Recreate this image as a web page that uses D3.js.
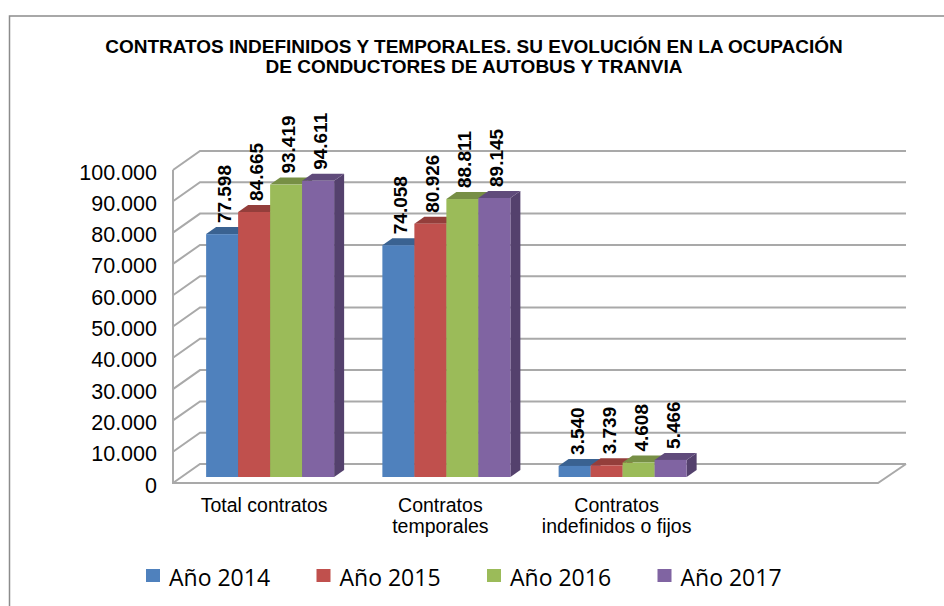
<!DOCTYPE html>
<html>
<head>
<meta charset="utf-8">
<script src="https://cdn.jsdelivr.net/npm/d3@7"></script>
<style>
  html, body { margin: 0; padding: 0; background: #fff; }
  svg { display: block; }
</style>
</head>
<body>
<svg width="944" height="606"></svg>
<script>
// chart values
const categories = ["Total contratos", "Contratos temporales", "Contratos indefinidos o fijos", ""];
const categoryLines = [["Total contratos"], ["Contratos", "temporales"], ["Contratos", "indefinidos o fijos"], []];
const years = ["Año 2014", "Año 2015", "Año 2016", "Año 2017"];
const values2014 = [77598, 74058, 3540];
const values2015 = [84665, 80926, 3739];
const values2016 = [93419, 88811, 4608];
const values2017 = [94611, 89145, 5466];
const yTicks = [0, 10000, 20000, 30000, 40000, 50000, 60000, 70000, 80000, 90000, 100000];
const titleLines = [
  "CONTRATOS INDEFINIDOS Y TEMPORALES. SU EVOLUCIÓN EN LA OCUPACIÓN",
  "DE CONDUCTORES DE AUTOBUS Y TRANVIA"
];

const series = [values2014, values2015, values2016, values2017];
const faceColors = ["#4f81bd", "#c0504d", "#9bbb59", "#8064a2"];
const topColors = ["#3a6291", "#943e3b", "#778f45", "#604b7b"];
const sideColors = ["#34577f", "#823634", "#687d3c", "#54416d"];

const svg = d3.select("svg");
const sans = "'Liberation Sans', Arial, sans-serif";
const es = d3.formatLocale({ decimal: ",", thousands: ".", grouping: [3], currency: ["", "€"] });
const fmt = es.format(",d");

// frame, only left and top are inside the picture
svg.append("path")
  .attr("d", "M9.5,606V16H944")
  .attr("fill", "none")
  .attr("stroke", "#8c8c8c")
  .attr("stroke-width", 1.5);

// title
svg.append("g").selectAll("text")
  .data(titleLines)
  .join("text")
  .attr("x", 474)
  .attr("y", (d, i) => 53 + i * 20)
  .attr("text-anchor", "middle")
  .attr("font-family", sans)
  .attr("font-weight", 700)
  .attr("font-size", 19)
  .attr("fill", "#000")
  .text((d) => d);

// scales, y is the front plane of the 3d box
const y = d3.scaleLinear().domain([0, 100000]).range([483, 170]);
const xFront = d3.scaleBand().domain(categories).range([173, 878]);
const x = d3.scaleBand().domain(categories).range([182, 887]).paddingInner(0).paddingOuter(0);
const wallDx = 27, wallDy = -19;  // depth of the whole box
const barDx = 10, barDy = -7;     // depth of the bars
const planeDy = -6;               // bars stand a bit behind the front edge
const barW = 32;

// walls
const grid = svg.append("g")
  .attr("fill", "none")
  .attr("stroke", "#a9a9a9")
  .attr("stroke-width", 2);

grid.selectAll("path.tick")
  .data(yTicks)
  .join("path")
  .attr("class", "tick")
  .attr("d", (d) => `M173,${y(d)}L${173 + wallDx},${y(d) + wallDy}H906`);

grid.append("path").attr("d", `M173,${y(100000)}V${y(0)}H878L906,${y(0) + wallDy}`);

// bars
const barLayer = svg.append("g");
categories.slice(0, 3).forEach((cat, c) => {
  series.forEach((vals, s) => {
    const x0 = x(cat) + x.bandwidth() / 2 - barW * 2 + s * barW;
    const yTop = y(vals[c]) + planeDy;
    const yBase = y(0) + planeDy;
    const g = barLayer.append("g");
    g.append("polygon")
      .attr("points", [[x0 + barW, yTop], [x0 + barW + barDx, yTop + barDy], [x0 + barW + barDx, yBase + barDy], [x0 + barW, yBase]].join(" "))
      .attr("fill", sideColors[s]);
    g.append("polygon")
      .attr("points", [[x0, yTop], [x0 + barDx, yTop + barDy], [x0 + barW + barDx, yTop + barDy], [x0 + barW, yTop]].join(" "))
      .attr("fill", topColors[s]);
    g.append("rect")
      .attr("x", x0)
      .attr("y", yTop)
      .attr("width", barW)
      .attr("height", yBase - yTop)
      .attr("fill", faceColors[s]);
  });
});

// value labels, on top so they cross the grid
categories.slice(0, 3).forEach((cat, c) => {
  series.forEach((vals, s) => {
    const cx = x(cat) + x.bandwidth() / 2 - barW * 2 + s * barW + barW / 2 + 2;
    const yLab = y(vals[c]) + planeDy + barDy - 4;
    svg.append("text")
      .attr("transform", `translate(${cx + 7},${yLab}) rotate(-90)`)
      .attr("font-family", sans)
      .attr("font-weight", 700)
      .attr("font-size", 19)
      .attr("fill", "#000")
      .text(fmt(vals[c]));
  });
});

// y axis labels
svg.append("g").selectAll("text")
  .data(yTicks)
  .join("text")
  .attr("x", 157)
  .attr("y", (d) => y(d) + 9.5)
  .attr("text-anchor", "end")
  .attr("font-family", sans)
  .attr("font-size", 21.5)
  .attr("fill", "#000")
  .text((d) => fmt(d));

// category labels
const catG = svg.append("g");
categories.forEach((cat, c) => {
  catG.selectAll(null)
    .data(categoryLines[c])
    .join("text")
    .attr("x", xFront(cat) + xFront.bandwidth() / 2 + 3)
    .attr("y", (d, i) => 512 + i * 21)
    .attr("text-anchor", "middle")
    .attr("font-family", sans)
    .attr("font-size", 19.5)
    .attr("fill", "#000")
    .text((d) => d);
});

// legend
const legendX = d3.scaleBand().domain(years).range([146, 828]);
const legend = svg.append("g").selectAll("g")
  .data(years)
  .join("g")
  .attr("transform", (d) => `translate(${legendX(d)},569)`);
legend.append("rect")
  .attr("width", 14)
  .attr("height", 13)
  .attr("fill", (d, i) => faceColors[i]);
legend.append("text")
  .attr("x", 23)
  .attr("y", 17)
  .attr("font-family", "'Open Sans', sans-serif")
  .attr("font-size", 23)
  .attr("fill", "#000")
  .text((d) => d);
</script>
</body>
</html>
